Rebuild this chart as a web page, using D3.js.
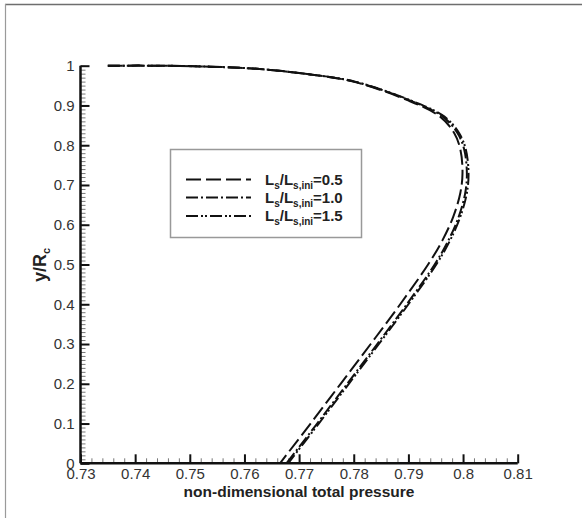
<!DOCTYPE html>
<html>
<head>
<meta charset="utf-8">
<script src="https://cdn.jsdelivr.net/npm/d3@7"></script>
<style>
  body { margin: 0; background: #fff; }
  svg { display: block; font-family: "Liberation Sans", Arial, sans-serif; }
</style>
</head>
<body>
<div id="chart"></div>
<script>
// tick labels
var xTicks = [0.73, 0.74, 0.75, 0.76, 0.77, 0.78, 0.79, 0.80, 0.81];
var xTickLabels = ["0.73", "0.74", "0.75", "0.76", "0.77", "0.78", "0.79", "0.8", "0.81"];
var yTicks = [0, 0.1, 0.2, 0.3, 0.4, 0.5, 0.6, 0.7, 0.8, 0.9, 1];
var yTickLabels = ["0", "0.1", "0.2", "0.3", "0.4", "0.5", "0.6", "0.7", "0.8", "0.9", "1"];

// series names
var seriesNames = ["0.5", "1.0", "1.5"];

// profiles: total pressure (x) and y/Rc (y)
var ratio05X = [0.7350, 0.7445, 0.7537, 0.7628, 0.7720, 0.7799, 0.7897, 0.7958, 0.7984, 0.7995, 0.7999, 0.7995, 0.7982, 0.7962, 0.7936, 0.7885, 0.7831, 0.7776, 0.7721, 0.7665];
var ratio05Y = [1.000, 1.000, 0.9975, 0.9917, 0.978, 0.960, 0.914, 0.872, 0.830, 0.790, 0.730, 0.680, 0.620, 0.560, 0.500, 0.400, 0.300, 0.200, 0.100, 0.000];

var ratio10X = [0.7350, 0.7445, 0.7537, 0.7628, 0.7721, 0.7801, 0.7900, 0.7963, 0.7990, 0.8002, 0.8007, 0.8004, 0.7992, 0.7973, 0.7948, 0.7897, 0.7843, 0.7788, 0.7733, 0.7677];
var ratio10Y = [1.000, 1.000, 0.9975, 0.9917, 0.978, 0.960, 0.914, 0.872, 0.830, 0.790, 0.730, 0.680, 0.620, 0.560, 0.500, 0.400, 0.300, 0.200, 0.100, 0.000];

var ratio15X = [0.7350, 0.7445, 0.7537, 0.7628, 0.7721, 0.7802, 0.7902, 0.7966, 0.7993, 0.8005, 0.8010, 0.8007, 0.7995, 0.7976, 0.7951, 0.7900, 0.7846, 0.7791, 0.7736, 0.7680];
var ratio15Y = [1.000, 1.000, 0.9975, 0.9917, 0.978, 0.960, 0.914, 0.872, 0.830, 0.790, 0.730, 0.680, 0.620, 0.560, 0.500, 0.400, 0.300, 0.200, 0.100, 0.000];

var width = 582;
var height = 518;

// dash styles for each series
var dashes = ["15,5", "12,3,2,3", "12,3,2,2,2,3"];

var svg = d3.select("#chart")
    .append("svg")
    .attr("width", width)
    .attr("height", height);

// outer frame (top and left only, as in the picture)
svg.append("line")
    .attr("x1", 5).attr("x2", width)
    .attr("y1", 4.5).attr("y2", 4.5)
    .attr("stroke", "#6e6e6e").attr("stroke-width", 1.5);
svg.append("line")
    .attr("x1", 5.5).attr("x2", 5.5)
    .attr("y1", 4).attr("y2", height)
    .attr("stroke", "#9a9a9a").attr("stroke-width", 1.2);

var xScale = d3.scaleLinear().domain([0.73, 0.81]).range([80.5, 517.7]);
var yScale = d3.scaleLinear().domain([0, 1]).range([463.3, 65.7]);

// minor ticks
var xMinor = d3.range(0, 41).map(function(i) { return 0.73 + i * 0.002; });
var yMinor = d3.range(0, 101).map(function(i) { return i * 0.01; });

svg.append("g")
    .attr("transform", "translate(0," + yScale(0) + ")")
    .call(d3.axisBottom(xScale).tickValues(xMinor).tickSize(-5).tickFormat(""))
    .call(function(g) {
      g.select(".domain").remove();
      g.selectAll("line").attr("stroke", "#777").attr("stroke-width", 1);
    });

svg.append("g")
    .attr("transform", "translate(" + xScale(0.73) + ",0)")
    .call(d3.axisLeft(yScale).tickValues(yMinor).tickSize(-5).tickFormat(""))
    .call(function(g) {
      g.select(".domain").remove();
      g.selectAll("line").attr("stroke", "#777").attr("stroke-width", 1);
    });

// major axes
var xAxis = d3.axisBottom(xScale)
    .tickValues(xTicks)
    .tickSize(-9)
    .tickPadding(3)
    .tickFormat(function(d, i) { return xTickLabels[i]; });

var yAxis = d3.axisLeft(yScale)
    .tickValues(yTicks)
    .tickSize(-9)
    .tickPadding(6)
    .tickFormat(function(d, i) { return yTickLabels[i]; });

svg.append("g")
    .attr("class", "xAxis")
    .attr("transform", "translate(0," + yScale(0) + ")")
    .call(xAxis)
    .call(function(g) {
      g.select(".domain").attr("d", "M" + xScale(0.73) + ",0H" + xScale(0.81))
        .attr("stroke", "#111").attr("stroke-width", 2.5);
      g.selectAll(".tick line").attr("stroke", "#111").attr("stroke-width", 2);
      g.selectAll(".tick text")
        .attr("font-size", 15)
        .attr("fill", "#333")
        .attr("font-family", "Liberation Sans, Arial, sans-serif")
        .attr("dy", "0.88em");
    });

svg.append("g")
    .attr("class", "yAxis")
    .attr("transform", "translate(" + xScale(0.73) + ",0)")
    .call(yAxis)
    .call(function(g) {
      g.select(".domain").attr("d", "M0," + yScale(0) + "V" + yScale(1))
        .attr("stroke", "#111").attr("stroke-width", 2.5);
      g.selectAll(".tick line").attr("stroke", "#111").attr("stroke-width", 2);
      g.selectAll(".tick text")
        .attr("font-size", 15)
        .attr("fill", "#333")
        .attr("font-family", "Liberation Sans, Arial, sans-serif");
    });

// axis titles
svg.append("text")
    .attr("x", 299)
    .attr("y", 497)
    .attr("text-anchor", "middle")
    .attr("font-size", 15.5)
    .attr("font-weight", "bold")
    .attr("fill", "#222")
    .text("non-dimensional total pressure");

var yTitle = svg.append("text")
    .attr("transform", "translate(46," + 282 + ")rotate(-90)")
    .attr("font-size", 18)
    .attr("font-weight", "bold")
    .attr("fill", "#222");
yTitle.append("tspan").text("y/R");
yTitle.append("tspan").attr("font-size", 11).attr("dy", 4).text("c");

// curves
var allX = [ratio05X, ratio10X, ratio15X];
var allY = [ratio05Y, ratio10Y, ratio15Y];

var line = d3.line()
    .x(function(d) { return xScale(d[0]); })
    .y(function(d) { return yScale(d[1]); })
    .curve(d3.curveCatmullRom.alpha(0.5));

seriesNames.forEach(function(name, i) {
  var pts = allX[i].map(function(v, j) { return [v, allY[i][j]]; });
  svg.append("path")
      .datum(pts)
      .attr("d", line)
      .attr("fill", "none")
      .attr("stroke", "#111")
      .attr("stroke-width", 2)
      .attr("stroke-dasharray", dashes[i]);
});

// legend
var legend = svg.append("g").attr("class", "legend");
legend.append("rect")
    .attr("x", 170.5).attr("y", 149.5)
    .attr("width", 191).attr("height", 88)
    .attr("fill", "#fff")
    .attr("stroke", "#999")
    .attr("stroke-width", 1.5);

var rowY = [179.5, 197.5, 216];
seriesNames.forEach(function(name, i) {
  legend.append("line")
      .attr("x1", 186).attr("x2", 251)
      .attr("y1", rowY[i]).attr("y2", rowY[i])
      .attr("stroke", "#111")
      .attr("stroke-width", 2.2)
      .attr("stroke-dasharray", dashes[i]);
  var t = legend.append("text")
      .attr("x", 265)
      .attr("y", rowY[i] + 5)
      .attr("font-size", 15)
      .attr("font-weight", "bold")
      .attr("fill", "#222");
  t.append("tspan").text("L");
  t.append("tspan").attr("font-size", 10).attr("dy", 4).text("s");
  t.append("tspan").attr("dy", -4).text("/L");
  t.append("tspan").attr("font-size", 10).attr("dy", 4).text("s,ini");
  t.append("tspan").attr("dy", -4).text("=" + name);
});
</script>
</body>
</html>
